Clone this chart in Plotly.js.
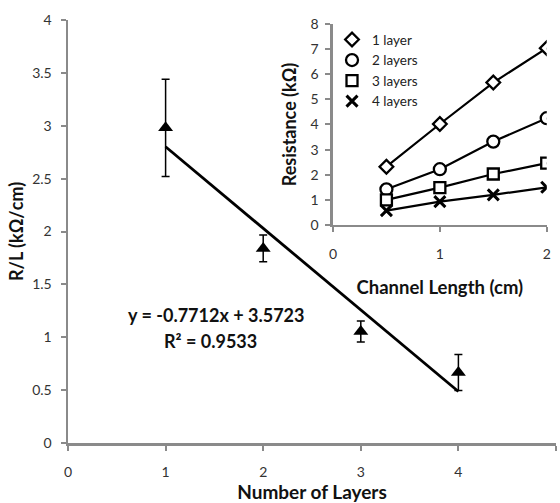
<!DOCTYPE html>
<html><head><meta charset="utf-8">
<script src="https://cdn.plot.ly/plotly-3.0.1.min.js"></script>
<style>body{margin:0;background:#fff}#chart{width:560px;height:503px}</style>
</head><body><div id="chart"></div>
<script>
// Main chart data
const layers = [1, 2, 3, 4];
const rOverL = [2.98, 1.84, 1.054, 0.666];
const rOverLErr = [0.46, 0.126, 0.10, 0.17];
const fitSlope = -0.7712;
const fitIntercept = 3.5723;
const fitR2 = 0.9533;

// Inset data
const channelLength = [0.5, 1, 1.5, 2];
const res1 = [2.32, 4.02, 5.67, 7.04];
const res2 = [1.42, 2.22, 3.32, 4.25];
const res3 = [1.0, 1.49, 2.03, 2.46];
const res4 = [0.57, 0.93, 1.2, 1.5];
const seriesNames = ['1 layer', '2 layers', '3 layers', '4 layers'];
const seriesSymbols = ['diamond', 'circle', 'square', 'x-thin-open'];

const FONT = 'Lato, "Liberation Sans", sans-serif';
const fitX = [layers[0], layers[layers.length - 1]];
const fitY = fitX.map(x => fitSlope * x + fitIntercept);

const traces = [];
traces.push({
  x: fitX, y: fitY, mode: 'lines', xaxis: 'x', yaxis: 'y',
  line: {color: '#000', width: 2.8}, showlegend: false, hoverinfo: 'skip'
});
traces.push({
  x: layers, y: rOverL, mode: 'markers', xaxis: 'x', yaxis: 'y',
  marker: {symbol: 'triangle-up', size: 13, color: '#000'},
  error_y: {type: 'data', array: rOverLErr, visible: true, color: '#000', thickness: 1.5, width: 4},
  showlegend: false
});
const insetSeries = [res1, res2, res3, res4];
const markerSizes = [10.5, 12, 11, 11];
insetSeries.forEach((ys, i) => {
  const mk = {symbol: seriesSymbols[i], size: markerSizes[i], color: i === 3 ? '#000' : '#fff',
              line: {color: '#000', width: i === 3 ? 3 : 2.3}};
  traces.push({
    x: channelLength, y: ys, mode: 'lines+markers', xaxis: 'x2', yaxis: 'y2',
    line: {color: '#000', width: 2.2}, marker: mk, showlegend: false
  });
  traces.push({
    x: [null], y: [null], mode: 'markers', xaxis: 'x2', yaxis: 'y2',
    name: seriesNames[i], marker: mk, showlegend: true
  });
});

const axisCommon = {
  showline: true, linecolor: '#8a8a8a', linewidth: 2.5, showgrid: false, zeroline: false,
  ticks: 'outside', ticklen: 5, tickwidth: 2, tickcolor: '#8a8a8a',
  tickfont: {family: FONT, size: 14, color: '#333'}
};

const layout = {
  width: 560, height: 503,
  margin: {l: 68, r: 4, t: 20, b: 60},
  paper_bgcolor: '#fff', plot_bgcolor: 'rgba(0,0,0,0)',
  font: {family: FONT, color: '#111'},
  xaxis: Object.assign({}, axisCommon, {
    range: [0, 5], tickvals: [0, 1, 2, 3, 4, 5], ticklabelstandoff: 10,
    title: {text: '<b>Number of Layers</b>', font: {family: FONT, size: 19, color: '#111'}, standoff: 9}
  }),
  yaxis: Object.assign({}, axisCommon, {
    range: [0, 4], tickvals: [0, 0.5, 1, 1.5, 2, 2.5, 3, 3.5, 4], ticklabelstandoff: 6,
    title: {text: '<b>R/L (kΩ/cm)</b>', font: {family: FONT, size: 18, color: '#111'}, standoff: 4}
  }),
  xaxis2: Object.assign({}, axisCommon, {
    domain: [0.543, 0.981], anchor: 'y2', range: [0, 2], tickvals: [0, 1, 2], ticklabelstandoff: 10,
    title: {text: '<b>Channel Length (cm)</b>', font: {family: FONT, size: 18.5, color: '#111'}, standoff: 20}
  }),
  yaxis2: Object.assign({}, axisCommon, {
    domain: [0.5154, 0.9905], anchor: 'x2', range: [0, 8], tickvals: [0, 1, 2, 3, 4, 5, 6, 7, 8], ticklabelstandoff: 4,
    title: {text: '<b>Resistance (kΩ)</b>', font: {family: FONT, size: 18, color: '#111'}, standoff: 10}
  }),
  legend: {x: 0.541, y: 0.99, xanchor: 'left', yanchor: 'top', bgcolor: 'rgba(0,0,0,0)',
    font: {family: FONT, size: 13.5, color: '#222'}, tracegroupgap: 0, itemwidth: 30},
  annotations: [
    {xref: 'paper', yref: 'paper', x: (216 - 68) / 488, y: (443 - 315) / 423, xanchor: 'center', yanchor: 'middle', showarrow: false,
     text: '<b>y = ' + fitSlope + 'x + ' + fitIntercept + '</b>', font: {family: FONT, size: 18, color: '#111'}},
    {xref: 'paper', yref: 'paper', x: (210 - 68) / 488, y: (443 - 341) / 423, xanchor: 'center', yanchor: 'middle', showarrow: false,
     text: '<b>R² = ' + fitR2 + '</b>', font: {family: FONT, size: 18, color: '#111'}}
  ]
};
Plotly.newPlot('chart', traces, layout, {displayModeBar: false, staticPlot: true});
</script></body></html>
